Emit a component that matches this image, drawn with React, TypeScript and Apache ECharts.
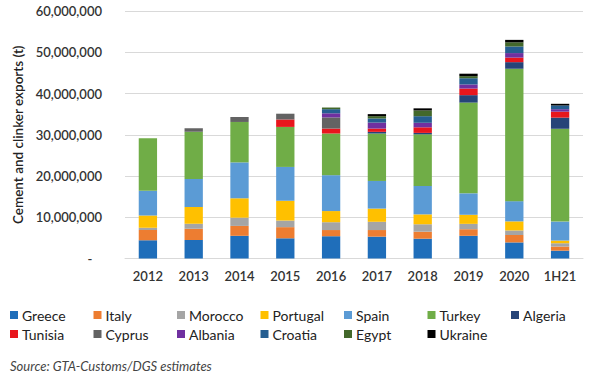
import React, { useEffect, useRef } from "react";
import * as echarts from "echarts";

const categories = ["2012", "2013", "2014", "2015", "2016", "2017", "2018", "2019", "2020", "1H21"];

const greece = [4.4e6, 4.5e6, 5.5e6, 4.9e6, 5.4e6, 5.3e6, 4.8e6, 5.5e6, 3.9e6, 1.9e6];
const italy = [2.5e6, 2.7e6, 2.4e6, 2.7e6, 1.5e6, 1.6e6, 1.7e6, 1.6e6, 1.8e6, 1.0e6];
const morocco = [0.55e6, 1.2e6, 2.0e6, 1.6e6, 1.9e6, 2.0e6, 1.8e6, 1.3e6, 1.1e6, 0.8e6];
const portugal = [3.0e6, 4.1e6, 4.7e6, 4.8e6, 2.7e6, 3.2e6, 2.4e6, 2.2e6, 2.2e6, 0.65e6];
const spain = [6.0e6, 6.8e6, 8.7e6, 8.2e6, 8.7e6, 6.7e6, 6.9e6, 5.2e6, 4.9e6, 4.6e6];
const turkey = [12.7e6, 11.4e6, 9.8e6, 9.7e6, 10.1e6, 11.5e6, 12.5e6, 22.0e6, 32.1e6, 22.5e6];
const algeria = [0, 0, 0, 0, 0, 0.4e6, 0.35e6, 1.8e6, 1.6e6, 2.7e6];
const tunisia = [0, 0, 0, 1.8e6, 1.2e6, 0.8e6, 1.35e6, 1.6e6, 1.1e6, 1.45e6];
const cyprus = [0, 0.9e6, 1.2e6, 1.4e6, 2.7e6, 0, 0, 0, 0, 0];
const albania = [0, 0, 0, 0, 1.0e6, 1.45e6, 1.1e6, 1.0e6, 1.1e6, 0.6e6];
const croatia = [0, 0, 0, 0, 1.0e6, 1.0e6, 1.6e6, 1.5e6, 1.6e6, 0.9e6];
const egypt = [0, 0, 0, 0, 0.4e6, 0.55e6, 1.4e6, 0.5e6, 1.0e6, 0];
const ukraine = [0, 0, 0, 0, 0, 0.5e6, 0.5e6, 0.6e6, 0.6e6, 0.4e6];

const seriesNames = ["Greece", "Italy", "Morocco", "Portugal", "Spain", "Turkey", "Algeria", "Tunisia", "Cyprus", "Albania", "Croatia", "Egypt", "Ukraine"];
const seriesData = [greece, italy, morocco, portugal, spain, turkey, algeria, tunisia, cyprus, albania, croatia, egypt, ukraine];
const seriesColors = ["#1F6EBA", "#ED7D31", "#A5A5A5", "#FFC000", "#5B9BD5", "#70AD47", "#264478", "#E8161D", "#636363", "#7030A0", "#255E91", "#43682B", "#000000"];

const yTicks = { min: 0, max: 60000000, interval: 10000000 };
const yTitle = "Cement and clinker exports (t)";
const sourceText = "Source: GTA-Customs/DGS estimates";

export default function App() {
  const ref = useRef<HTMLDivElement>(null);
  useEffect(() => {
    document.body.style.margin = "0";
    if (!ref.current) return;
    const chart = echarts.init(ref.current, null, { renderer: "svg" });
    const legends = seriesNames.map((name, i) => ({
      data: [name],
      left: 10 + (i % 7) * 83.5,
      top: i < 7 ? 308 : 327,
      itemWidth: 8,
      itemHeight: 8,
      itemGap: 0,
      padding: 0,
      icon: "rect",
      selectedMode: false,
      textStyle: { fontFamily: "Lato", fontSize: 14, color: "#222", padding: [0, 0, 0, -1] },
    }));
    chart.setOption({
      animation: false,
      backgroundColor: "#ffffff",
      textStyle: { fontFamily: "Lato" },
      grid: { left: 125, right: 17, top: 11, bottom: 119.5, containLabel: false },
      legend: legends,
      xAxis: {
        type: "category",
        data: categories,
        axisLine: { show: true, lineStyle: { color: "#D9D9D9" } },
        axisTick: { show: false },
        axisLabel: { fontFamily: "Lato", fontSize: 13, fontWeight: 600, color: "#333", margin: 11 },
      },
      yAxis: {
        type: "value",
        min: yTicks.min,
        max: yTicks.max,
        interval: yTicks.interval,
        name: yTitle,
        nameLocation: "middle",
        nameGap: 97,
        nameRotate: 90,
        nameTextStyle: { fontFamily: "Lato", fontSize: 13.5, fontWeight: 600, color: "#222" },
        axisLine: { show: false },
        axisTick: { show: false },
        splitLine: { lineStyle: { color: "#D9D9D9", width: 1 } },
        axisLabel: {
          fontFamily: "Lato",
          fontSize: 13,
          fontWeight: 600,
          color: "#333",
          margin: 23,
          formatter: (v: number) => (v === 0 ? "-   " : v.toLocaleString("en-US")),
        },
      },
      series: seriesNames.map((name, i) => ({
        name,
        type: "bar",
        stack: "total",
        data: seriesData[i],
        barWidth: "40%",
        itemStyle: { color: seriesColors[i] },
      })),
      graphic: [
        {
          type: "text",
          left: 10,
          top: 359,
          style: {
            text: sourceText,
            fontFamily: "Lato",
            fontStyle: "italic",
            fontSize: 13,
            fill: "#444",
          },
        },
      ],
    });
    return () => chart.dispose();
  }, []);
  return <div ref={ref} style={{ width: 600, height: 378 }} />;
}
